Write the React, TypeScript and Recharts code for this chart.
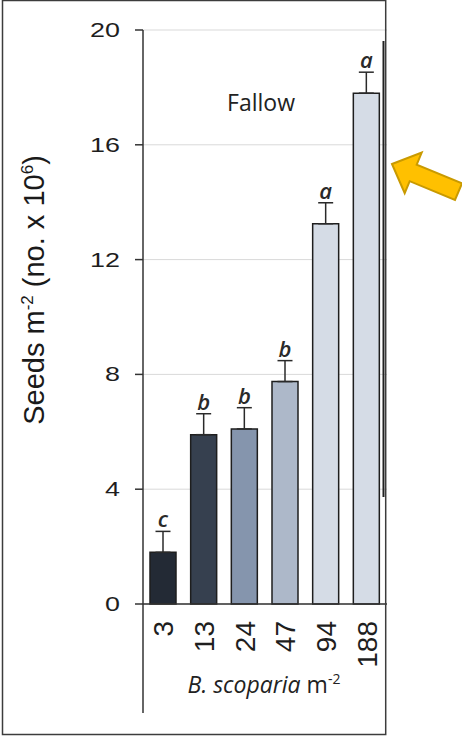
import React from 'react';
import { BarChart, Bar, XAxis, YAxis, CartesianGrid, ErrorBar, Cell, LabelList } from 'recharts';

// Seed bank density (seeds m-2, x 10^6) under fallow, by B. scoparia density
const densities = ['3', '13', '24', '47', '94', '188'];
const seeds = [1.8, 5.9, 6.1, 7.75, 13.25, 17.8];
const seedErr = [0.73, 0.73, 0.74, 0.73, 0.73, 0.73];
const groups = ['c', 'b', 'b', 'b', 'a', 'a'];
const barColors = ['#232a35', '#36404f', '#8595ad', '#adb8c9', '#d5dce6', '#d5dce6'];
const yTicks = [0, 4, 8, 12, 16, 20];

const data = densities.map((d, i) => ({
  density: d,
  seeds: seeds[i],
  err: [0, seedErr[i]],
  group: groups[i],
}));

const W = 462;
const H = 739;
const AXIS = '#333333';
const SANS = 'Liberation Sans, Arial, sans-serif';
const OPEN = 'Open Sans, sans-serif';

const YTick = (props: any) => {
  const { x, y, payload } = props;
  return (
    <text
      x={x}
      y={y}
      dy="0.36em"
      textAnchor="end"
      fontSize={19.5}
      fontFamily={SANS}
      fill="#1e1e1e"
      transform={`translate(${x} ${y}) scale(1.38 1) translate(${-x} ${-y})`}
    >
      {payload.value}
    </text>
  );
};

const XTick = (props: any) => {
  const { x, y, payload } = props;
  return (
    <text
      x={x}
      y={y}
      dy="0.36em"
      textAnchor="end"
      fontSize={28}
      fontFamily={SANS}
      fill="#1e1e1e"
      transform={`rotate(-90 ${x} ${y})`}
    >
      {payload.value}
    </text>
  );
};

const YLabel = (props: any) => {
  const vb = props.viewBox || { x: 0, y: 30, width: 143, height: 574 };
  const cx = vb.x + 44;
  const cy = vb.y + vb.height / 2 - 27;
  return (
    <text
      x={cx}
      y={cy}
      textAnchor="middle"
      fontSize={29}
      fontFamily={SANS}
      fill="#1a1a1a"
      transform={`rotate(-90 ${cx} ${cy})`}
    >
      Seeds m
      <tspan dy={-11} fontSize={17}>-2</tspan>
      <tspan dy={11}> (no. x 10</tspan>
      <tspan dy={-11} fontSize={17}>6</tspan>
      <tspan dy={11}>)</tspan>
    </text>
  );
};

const XLabel = (props: any) => {
  const vb = props.viewBox || { x: 143, y: 604, width: 244, height: 135 };
  const cx = vb.x + vb.width / 2 - 1;
  const cy = vb.y + 89;
  return (
    <text x={cx} y={cy} textAnchor="middle" fontSize={23} fontFamily={OPEN} fill="#222">
      <tspan fontStyle="italic">B. scoparia</tspan>
      <tspan> m</tspan>
      <tspan dy={-9} fontSize={14}>-2</tspan>
    </text>
  );
};

// Significance letter sits just above the error bar cap
const GroupLetter = (props: any) => {
  const { x, y, width, height, value, index } = props;
  const pxPerUnit = height / seeds[index];
  const top = y - seedErr[index] * pxPerUnit;
  return (
    <text
      x={x + width / 2}
      y={top - 4}
      textAnchor="middle"
      fontSize={22}
      fontStyle="italic"
      fontWeight={600}
      fontFamily={OPEN}
      fill="#2a2a2a"
    >
      {value}
    </text>
  );
};

export default function App() {
  return (
    <div style={{ position: 'absolute', left: 0, top: 0, width: W, height: H, background: '#fff' }}>
      <BarChart
        width={W}
        height={H}
        data={data}
        margin={{ top: 30, right: 75, bottom: 0, left: 0 }}
      >
        <CartesianGrid vertical={false} stroke="#d9d9d9" strokeWidth={1} />
        <XAxis
          dataKey="density"
          height={135}
          interval={0}
          tickLine={false}
          tickSize={0}
          tickMargin={17}
          axisLine={{ stroke: AXIS, strokeWidth: 1.5 }}
          tick={<XTick />}
          label={(p: any) => <XLabel {...p} />}
        />
        <YAxis
          width={143}
          domain={[0, 20]}
          ticks={yTicks}
          interval={0}
          tickSize={8}
          tickMargin={15}
          axisLine={{ stroke: AXIS, strokeWidth: 1.5 }}
          tickLine={{ stroke: AXIS, strokeWidth: 1.5 }}
          tick={<YTick />}
          label={(p: any) => <YLabel {...p} />}
        />
        <Bar dataKey="seeds" barSize={26} stroke="#1e1e1e" strokeWidth={1.5} isAnimationActive={false}>
          {data.map((d, i) => (
            <Cell key={d.density} fill={barColors[i]} />
          ))}
          <ErrorBar dataKey="err" direction="y" width={7.5} stroke="#2a2a2a" strokeWidth={1.5} />
          <LabelList dataKey="group" content={(p: any) => <GroupLetter {...p} />} />
        </Bar>
      </BarChart>
      <svg
        width={W}
        height={H}
        style={{ position: 'absolute', left: 0, top: 0, pointerEvents: 'none' }}
      >
        <rect x={2.5} y={0.5} width={383.2} height={734} fill="none" stroke="#3c3c3c" strokeWidth={1.5} />
        <line x1={143} y1={604} x2={143} y2={713} stroke={AXIS} strokeWidth={1.5} />
        <line x1={383.5} y1={41} x2={383.5} y2={497} stroke="#222" strokeWidth={2} />
        <text x={261} y={111} textAnchor="middle" fontSize={23} fontFamily={OPEN} fill="#222">
          Fallow
        </text>
        <polygon
          points="392,164 421.7,152.6 416.7,164.6 462,183.4 455,200 409.7,181.2 404.7,193.2"
          fill="#ffc000"
          stroke="#c99a00"
          strokeWidth={2}
          strokeLinejoin="miter"
        />
      </svg>
    </div>
  );
}
